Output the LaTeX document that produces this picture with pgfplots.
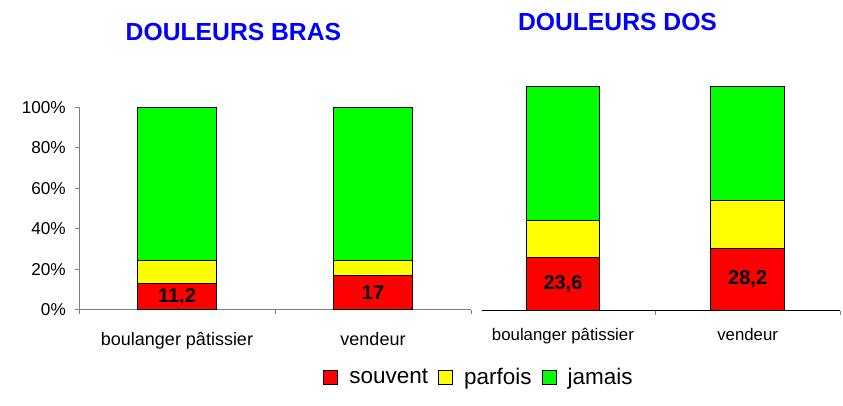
\documentclass[border=0pt]{standalone}
\usepackage{pgfplots}
\usepackage{pgfplotstable}
\pgfplotsset{compat=1.18}
\usepackage{fontspec}
\setmainfont{Liberation Sans}
\definecolor{cred}{RGB}{255,0,0}
\definecolor{cyel}{RGB}{255,255,0}
\definecolor{cgrn}{RGB}{0,255,0}
\definecolor{cblue}{RGB}{0,0,255}
\definecolor{axgray}{RGB}{128,128,128}

\pgfplotstableread{
x souvent parfois jamais lab
0 12.8 11.4 75.8 11,2
1 16.8 7.4 75.8 17
}\bras
\pgfplotstableread{
x souvent parfois jamais lab
0 23.6 16.4 60.0 23,6
1 27.8 21.2 51.0 28,2
}\dos

\pgfplotsset{
  barbase/.style={scale only axis, ybar stacked, bar width=0.4, ymin=0, ymax=100,
    every axis plot/.append style={draw=black, line width=0.9pt},
    title style={font=\fontsize{24.7}{29}\selectfont\bfseries, text=cblue, anchor=center, inner sep=0pt},
    major tick length=4pt, tick align=outside,
    extra x tick style={tick style={draw=none}},
  },
  labbase/.style={scale only axis, hide axis, ymin=0, ymax=100},
  lab/.style={draw=none, point meta=explicit symbolic, nodes near coords,
    every node near coord/.append style={anchor=center, font=\fontsize{20}{24}\selectfont\bfseries}},
}

\begin{document}
\begin{tikzpicture}[x=1pt,y=1pt]
\useasboundingbox (0,0) rectangle (843,405);
% ---------- left panel ----------
\begin{axis}[barbase, at={(79pt,95.3pt)}, anchor=south west, width=392pt, height=202.4pt,
  xmin=-0.5, xmax=1.5,
  axis x line*=bottom, axis y line*=left,
  axis line style={axgray, line width=0.8pt, -},
  tick style={axgray, line width=0.8pt},
  xtick={-0.5,0.5,1.5}, xticklabels={,,},
  extra x ticks={0,1}, extra x tick labels={boulanger pâtissier, vendeur},
  xticklabel style={font=\fontsize{18}{21}\selectfont, anchor=base, yshift=-32.2pt},
  ytick={0,20,40,60,80,100}, yticklabels={0\%,20\%,40\%,60\%,80\%,100\%},
  yticklabel style={font=\fontsize{17.2}{20}\selectfont, anchor=east, inner sep=0pt, xshift=-9pt},
  title={DOULEURS BRAS}, title style={at={(0.394,1.342)}},
]
\addplot[fill=cred] table[x=x, y=souvent]{\bras};
\addplot[fill=cyel] table[x=x, y=parfois]{\bras};
\addplot[fill=cgrn] table[x=x, y=jamais]{\bras};
\end{axis}
\begin{axis}[labbase, at={(79pt,95.3pt)}, anchor=south west, width=392pt, height=202.4pt,
  xmin=-0.5, xmax=1.5]
\addplot[lab] table[x=x, y expr=\thisrow{souvent}/2, meta=lab]{\bras};
\end{axis}
% ---------- right panel ----------
\begin{axis}[barbase, at={(481.7pt,94.3pt)}, anchor=south west, width=358.3pt, height=224.7pt,
  xmin=-0.44, xmax=1.5,
  axis x line*=bottom, axis y line=none,
  axis line style={black, line width=0.8pt, -},
  tick style={axgray, line width=0.8pt},
  xtick={0.5,1.5}, xticklabels={,},
  extra x ticks={0,1}, extra x tick labels={boulanger pâtissier, vendeur},
  xticklabel style={font=\fontsize{16.8}{20}\selectfont, anchor=base, yshift=-26.2pt},
  title={DOULEURS DOS}, title style={at={(0.379,1.258)}},
  legend style={at={(-0.0103,-0.295)}, anchor=center, draw=none, fill=none,
    legend columns=3, font=\fontsize{22.5}{27}\selectfont,
    nodes={inner sep=0pt},
    /tikz/every even column/.append style={column sep=10pt}},
  legend image code/.code={\draw[#1, draw=black, line width=0.9pt] (0pt,-7pt) rectangle (14pt,7pt); \path (25pt,0pt);},
]
\addplot[fill=cred] table[x=x, y=souvent]{\dos};
\addplot[fill=cyel] table[x=x, y=parfois]{\dos};
\addplot[fill=cgrn] table[x=x, y=jamais]{\dos};
\legend{souvent, parfois, jamais}
\end{axis}
\begin{axis}[labbase, at={(481.7pt,94.3pt)}, anchor=south west, width=358.3pt, height=224.7pt,
  xmin=-0.44, xmax=1.5]
\addplot[lab] table[x=x, y expr=\thisrow{souvent}/2, meta=lab]{\dos};
\end{axis}
\end{tikzpicture}
\end{document}
